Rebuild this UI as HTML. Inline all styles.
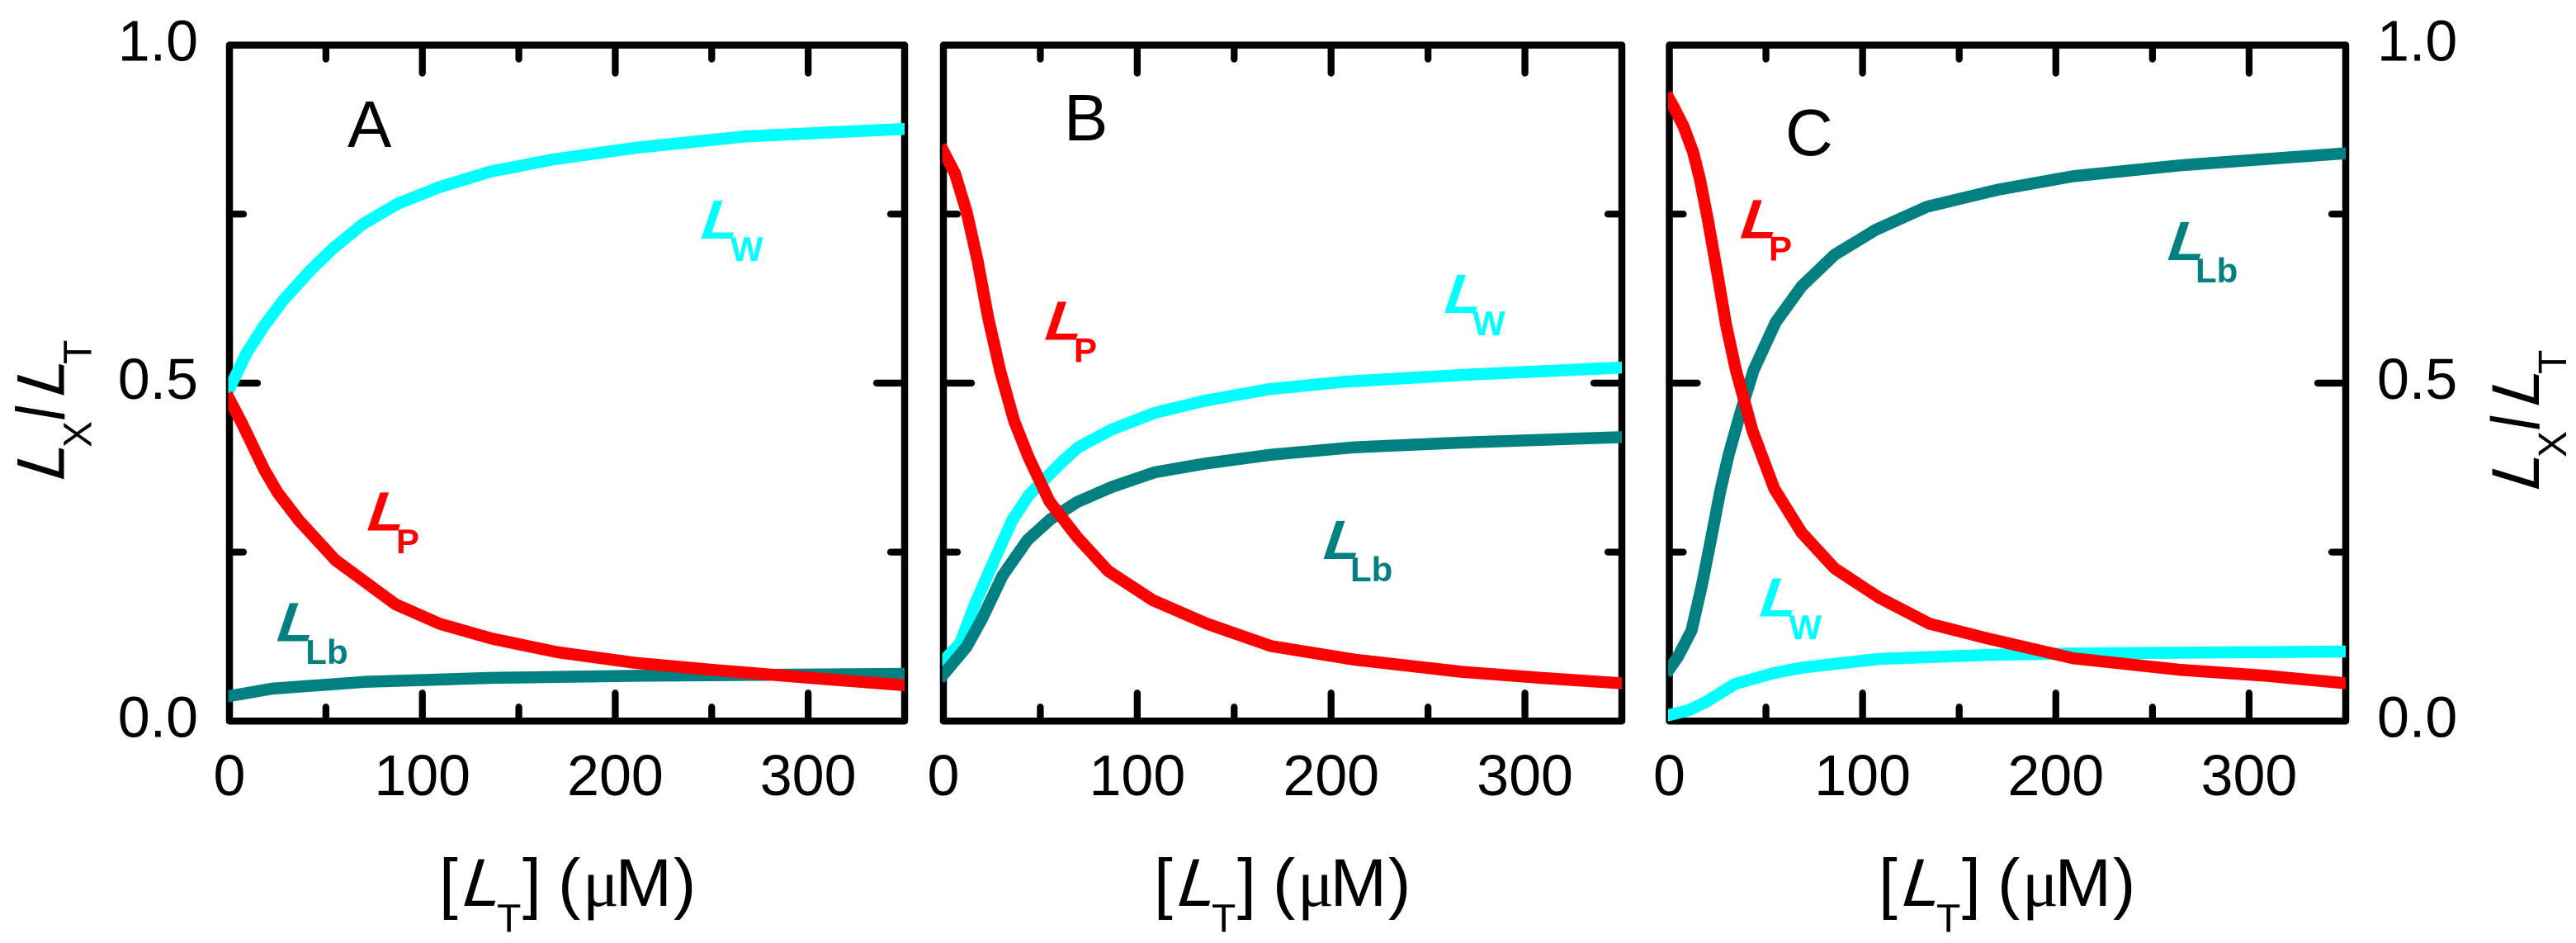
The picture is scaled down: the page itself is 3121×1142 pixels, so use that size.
<!DOCTYPE html>
<html lang="en">
<head>
<meta charset="utf-8">
<title>Ligand fractions versus total ligand concentration</title>
<style>
html,body{margin:0;padding:0;background:#fff;}
svg{display:block;}
text{font-family:"Liberation Sans",sans-serif;fill:#000;}
.lb-l{font-weight:bold;font-size:67px;}
.lb-s{font-weight:bold;font-size:42px;}
.cy{fill:#00ffff;}
.rd{fill:#ff0000;}
.tl{fill:#008080;}
</style>
</head>
<body>
<svg id="chart" xmlns="http://www.w3.org/2000/svg" width="3121" height="1142" viewBox="0 0 3121 1142">
<rect width="3121" height="1142" fill="#fff"/>
<g id="panels"></g>

<g transform="translate(77.7,581) rotate(-90)" font-size="82">
  <text x="-6.2" y="0" transform="skewX(-17)">L</text>
  <text x="39" y="33" font-size="48">X</text>
  <text x="73" y="0" transform="skewX(6)">/</text>
  <text x="95.5" y="0" transform="skewX(-17)">L</text>
  <text x="140" y="33" font-size="48">T</text>
</g>
<g transform="translate(3076,593) rotate(-90)" font-size="82">
  <text x="-6.2" y="0" transform="skewX(-17)">L</text>
  <text x="39" y="33" font-size="48">X</text>
  <text x="73" y="0" transform="skewX(6)">/</text>
  <text x="95.5" y="0" transform="skewX(-17)">L</text>
  <text x="140" y="33" font-size="48">T</text>
</g>

<g font-size="82">
  <text x="532" y="1097">[</text>
  <text x="-6.2" y="0" transform="translate(561.7,1097) skewX(-17)">L</text>
  <text x="602" y="1128.3" font-size="48">T</text>
  <text x="633" y="1097">]</text>
  <text x="676" y="1097">(</text>
  <text x="706" y="1097" style="font-family:'Liberation Serif',serif">μ</text>
  <text x="745.6" y="1097">M</text>
  <text x="816" y="1097">)</text>
</g>
<g font-size="82" transform="translate(866,0)">
  <text x="532" y="1097">[</text>
  <text x="-6.2" y="0" transform="translate(561.7,1097) skewX(-17)">L</text>
  <text x="602" y="1128.3" font-size="48">T</text>
  <text x="633" y="1097">]</text>
  <text x="676" y="1097">(</text>
  <text x="706" y="1097" style="font-family:'Liberation Serif',serif">μ</text>
  <text x="745.6" y="1097">M</text>
  <text x="816" y="1097">)</text>
</g>
<g font-size="82" transform="translate(1744,0)">
  <text x="532" y="1097">[</text>
  <text x="-6.2" y="0" transform="translate(561.7,1097) skewX(-17)">L</text>
  <text x="602" y="1128.3" font-size="48">T</text>
  <text x="633" y="1097">]</text>
  <text x="676" y="1097">(</text>
  <text x="706" y="1097" style="font-family:'Liberation Serif',serif">μ</text>
  <text x="745.6" y="1097">M</text>
  <text x="816" y="1097">)</text>
</g>

<text x="421" y="178" font-size="80">A</text>
<text x="1289" y="170" font-size="80">B</text>
<text x="2163" y="188" font-size="80">C</text>

<g><text class="lb-l cy" x="-4.9" transform="translate(850,289) skewX(-18.5) scale(1.08,1)">L</text><text class="lb-s cy" x="885" y="316">W</text></g>
<g><text class="lb-l rd" x="-4.9" transform="translate(445.7,642.7) skewX(-18.5) scale(1.08,1)">L</text><text class="lb-s rd" x="480" y="670">P</text></g>
<g><text class="lb-l tl" x="-4.9" transform="translate(336,776.7) skewX(-18.5) scale(1.08,1)">L</text><text class="lb-s tl" x="370.3" y="804">Lb</text></g>

<g><text class="lb-l cy" x="-4.9" transform="translate(1750.5,379) skewX(-18.5) scale(1.08,1)">L</text><text class="lb-s cy" x="1784" y="406">W</text></g>
<g><text class="lb-l rd" x="-4.9" transform="translate(1266.7,411.7) skewX(-18.5) scale(1.08,1)">L</text><text class="lb-s rd" x="1301" y="438.7">P</text></g>
<g><text class="lb-l tl" x="-4.9" transform="translate(1604,677) skewX(-18.5) scale(1.08,1)">L</text><text class="lb-s tl" x="1636" y="704">Lb</text></g>

<g><text class="lb-l rd" x="-4.9" transform="translate(2109.3,288.3) skewX(-18.5) scale(1.08,1)">L</text><text class="lb-s rd" x="2143" y="315.7">P</text></g>
<g><text class="lb-l tl" x="-4.9" transform="translate(2627,315) skewX(-18.5) scale(1.08,1)">L</text><text class="lb-s tl" x="2660" y="342">Lb</text></g>
<g><text class="lb-l cy" x="-4.9" transform="translate(2132.7,746.7) skewX(-18.5) scale(1.08,1)">L</text><text class="lb-s cy" x="2167.5" y="774">W</text></g>
</svg>
<script>
const xTickValues = [0, 50, 100, 150, 200, 250, 300];
const xTickLabels = ['0', '100', '200', '300'];
const yTickValues = [0, 0.25, 0.5, 0.75, 1];
const yTickLabels = ['0.0', '0.5', '1.0'];

const aLwX = [0, 9, 18, 27.7, 42, 54, 69, 87, 109, 135.5, 168, 210.5, 268, 350];
const aLwY = [0.492, 0.545, 0.585, 0.622, 0.667, 0.700, 0.735, 0.765, 0.790, 0.813, 0.831, 0.848, 0.865, 0.876];
const aLpX = [0, 6.6, 12.8, 18, 25, 36, 55, 86, 109, 136, 170, 211, 250, 301, 350];
const aLpY = [0.476, 0.440, 0.403, 0.372, 0.338, 0.297, 0.238, 0.173, 0.144, 0.122, 0.102, 0.086, 0.076, 0.064, 0.053];
const aLbX = [0, 22, 70, 136, 211, 350];
const aLbY = [0.037, 0.048, 0.058, 0.064, 0.067, 0.070];

const bLwX = [0, 8.6, 16.5, 28.4, 35.5, 44, 61, 69.6, 86.6, 109, 135, 168, 207, 267, 350];
const bLwY = [0.089, 0.115, 0.175, 0.252, 0.297, 0.334, 0.383, 0.405, 0.431, 0.456, 0.474, 0.491, 0.502, 0.512, 0.523];
const bLbX = [0, 12, 20, 30.5, 37, 43.4, 55.4, 69, 86.6, 109, 135, 169, 212, 267, 350];
const bLbY = [0.069, 0.110, 0.152, 0.215, 0.242, 0.268, 0.299, 0.324, 0.346, 0.368, 0.381, 0.394, 0.405, 0.412, 0.420];
const bLpX = [0, 6, 12, 17.7, 23, 29.4, 36.5, 44, 54.7, 69, 85, 108, 136, 169, 212, 267, 308, 350];
const bLpY = [0.843, 0.810, 0.753, 0.680, 0.598, 0.517, 0.444, 0.390, 0.325, 0.272, 0.222, 0.179, 0.144, 0.111, 0.091, 0.073, 0.064, 0.056];

const cLwX = [0, 10, 18.7, 34, 54, 68.5, 108.4, 165, 209, 350];
const cLwY = [0.009, 0.016, 0.028, 0.055, 0.071, 0.079, 0.092, 0.098, 0.100, 0.103];
const cLbX = [0, 4.4, 11.5, 17, 21.5, 26.5, 30.8, 37, 43.6, 55, 68.4, 85.6, 107, 133.4, 170, 209, 264, 350];
const cLbY = [0.077, 0.095, 0.134, 0.203, 0.268, 0.342, 0.395, 0.458, 0.519, 0.590, 0.643, 0.690, 0.727, 0.761, 0.786, 0.806, 0.822, 0.840];
const cLpX = [0, 2.3, 7.3, 12.3, 15.8, 20, 25, 29.4, 34.3, 43, 54.3, 68.4, 85.5, 108.4, 134.7, 165, 209, 264, 309, 350];
const cLpY = [0.920, 0.908, 0.880, 0.842, 0.802, 0.741, 0.660, 0.586, 0.521, 0.430, 0.344, 0.279, 0.226, 0.183, 0.144, 0.122, 0.093, 0.076, 0.067, 0.056];

const SVGNS = 'http://www.w3.org/2000/svg';
const plotTop = 54.6;
const plotBottom = 873.3;
const xMax = 350;
const root = document.getElementById('panels');

function make(tag, parent, attrs) {
  const el = document.createElementNS(SVGNS, tag);
  for (const k in attrs) el.setAttribute(k, attrs[k]);
  parent.appendChild(el);
  return el;
}
function yScale(v) { return plotBottom - v * (plotBottom - plotTop); }

function drawPanel(id, left, right, series, yLabelX, yAnchor) {
  const xScale = function (v) { return left + v / xMax * (right - left); };
  const g = make('g', root, {});
  
  

  const clip = make('clipPath', g, { id: 'clip-' + id });
  make('rect', clip, { x: left - 1.5, y: 0, width: right - left + 1.5, height: 1142 });

  xTickValues.forEach(function (v) {
    const major = v % 100 === 0;
    const len = major ? 37 : 20;
    if (v === 0) return;
    const px = xScale(v);
    const top = make('line', g, { x1: px, x2: px, y1: plotTop, y2: plotTop + len - 3, stroke: '#000', 'stroke-width': 8.3, 'stroke-linecap': 'round' });
    
    
    const bot = make('line', g, { x1: px, x2: px, y1: plotBottom, y2: plotBottom - len + 3, stroke: '#000', 'stroke-width': 8.3, 'stroke-linecap': 'round' });
    
    
  });
  yTickValues.forEach(function (v) {
    if (v === 0 || v === 1) return;
    const len = v === 0.5 ? 37 : 20;
    const py = yScale(v);
    const l = make('line', g, { x1: left, x2: left + len - 3, y1: py, y2: py, stroke: '#000', 'stroke-width': 8.3, 'stroke-linecap': 'round' });
    
    
    const r = make('line', g, { x1: right, x2: right - len + 3, y1: py, y2: py, stroke: '#000', 'stroke-width': 8.3, 'stroke-linecap': 'round' });
    
    
  });

  const frame = make('rect', g, { x: left, y: plotTop, width: right - left, height: plotBottom - plotTop, fill: 'none', stroke: '#000', 'stroke-width': 8.5, 'stroke-linejoin': 'round' });
  
  

  xTickLabels.forEach(function (lbl) {
    const t = make('text', g, { x: xScale(Number(lbl)), y: 963, 'font-size': 70, 'text-anchor': 'middle' });
    t.textContent = lbl;
    
    
  });
  if (yLabelX !== null) {
    yTickLabels.forEach(function (lbl) {
      const v = Number(lbl);
      const t = make('text', g, { x: yLabelX, y: yScale(v) + 19, 'font-size': 70, 'text-anchor': yAnchor });
      t.textContent = lbl;
      
      
    });
  }

  series.forEach(function (s) {
    const pts = s.xs.map(function (x, i) { return xScale(x).toFixed(1) + ',' + yScale(s.ys[i]).toFixed(1); }).join(' ');
    const line = make('polyline', g, { points: pts, fill: 'none', stroke: s.color, 'stroke-width': 14.5, 'stroke-linejoin': 'round', 'stroke-linecap': 'square', 'clip-path': 'url(#clip-' + id + ')' });
    
    
  });
}

drawPanel('a', 278, 1096, [
  { name: 'lb', color: '#008080', xs: aLbX, ys: aLbY },
  { name: 'lw', color: '#00ffff', xs: aLwX, ys: aLwY },
  { name: 'lp', color: '#ff0000', xs: aLpX, ys: aLpY }
], 240, 'end');
drawPanel('b', 1143, 1965, [
  { name: 'lw', color: '#00ffff', xs: bLwX, ys: bLwY },
  { name: 'lb', color: '#008080', xs: bLbX, ys: bLbY },
  { name: 'lp', color: '#ff0000', xs: bLpX, ys: bLpY }
], null, 'end');
drawPanel('c', 2022.5, 2842, [
  { name: 'lw', color: '#00ffff', xs: cLwX, ys: cLwY },
  { name: 'lb', color: '#008080', xs: cLbX, ys: cLbY },
  { name: 'lp', color: '#ff0000', xs: cLpX, ys: cLpY }
], 2880, 'start');
</script>
</body>
</html>
